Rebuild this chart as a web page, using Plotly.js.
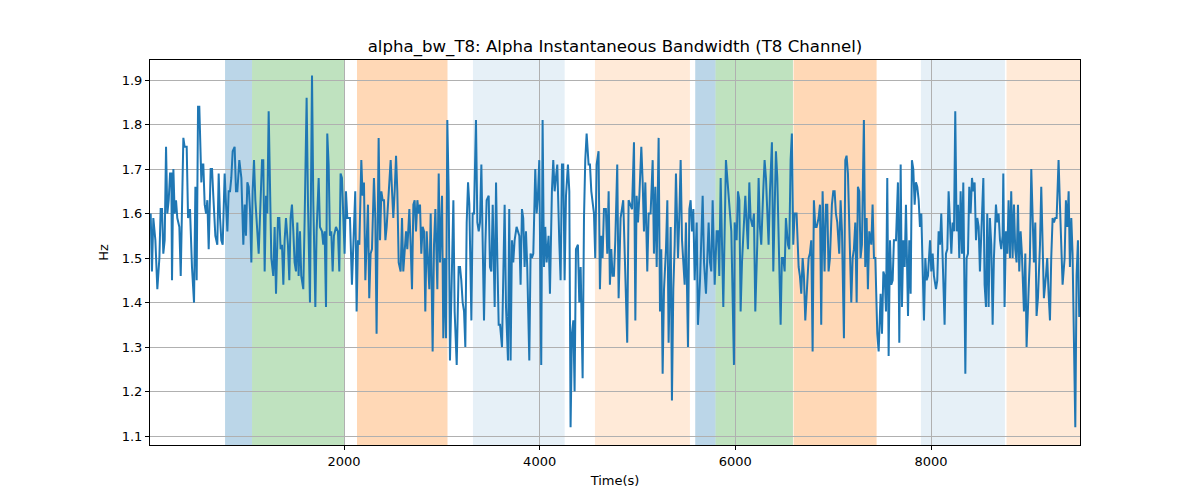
<!DOCTYPE html>
<html>
<head>
<meta charset="utf-8">
<script src="https://cdn.plot.ly/plotly-3.0.1.min.js"></script>
<style>
  html, body { margin: 0; padding: 0; background: #fff; }
  #chart { width: 1200px; height: 500px; }
</style>
</head>
<body>
<div id="chart"></div>
<script>
// time (s) and alpha bandwidth (Hz)
const timeSec = [
  24, 37, 51, 72, 92, 113, 126, 140, 153, 167, 181, 194, 208, 222, 235, 242, 256, 269, 283, 296,
  317, 331, 358, 371, 392, 406, 426, 446, 467, 481, 494, 508, 521, 542, 549, 562, 576, 590, 603, 617,
  637, 651, 664, 685, 705, 719, 733, 746, 760, 780, 794, 808, 821, 835, 848, 862, 882, 896, 910, 930,
  951, 971, 985, 998, 1012, 1026, 1039, 1053, 1066, 1080, 1094, 1114, 1128, 1141, 1162, 1175, 1189, 1203, 1216, 1230,
  1257, 1277, 1291, 1305, 1325, 1339, 1352, 1366, 1380, 1393, 1407, 1427, 1441, 1454, 1468, 1482, 1495, 1509, 1523, 1536,
  1550, 1563, 1584, 1598, 1618, 1632, 1652, 1673, 1686, 1707, 1720, 1741, 1754, 1775, 1788, 1802, 1816, 1829, 1843, 1856,
  1870, 1884, 1897, 1918, 1938, 1952, 1965, 1979, 1993, 2006, 2020, 2034, 2047, 2061, 2081, 2095, 2115, 2129, 2143, 2157,
  2177, 2190, 2204, 2218, 2231, 2245, 2258, 2272, 2286, 2306, 2320, 2333, 2354, 2368,
  2382, 2395, 2409, 2423, 2436, 2457, 2477, 2491, 2504, 2518, 2532, 2545, 2559, 2579, 2593, 2606, 2620, 2634, 2647, 2668,
  2681, 2695, 2709, 2722, 2736, 2750, 2763, 2777, 2790, 2804, 2818, 2831, 2845, 2859, 2872, 2886, 2906, 2920, 2934, 2954,
  2968, 2981, 3002, 3015, 3029, 3043, 3056, 3070, 3083, 3097, 3118, 3131, 3152, 3172, 3186, 3199, 3213, 3227, 3240, 3254,
  3268, 3281, 3302, 3315, 3329, 3349, 3363, 3377, 3390, 3404, 3418, 3431, 3445, 3458, 3479, 3492, 3506, 3520, 3540, 3554,
  3567, 3581, 3595, 3615, 3629, 3642, 3656, 3676,
  3689, 3703, 3717, 3730, 3744, 3764, 3778, 3792, 3805, 3819, 3832, 3846, 3860, 3873, 3894, 3907, 3921, 3935, 3955, 3969,
  3982, 3996, 4016, 4030, 4044, 4057, 4071, 4091, 4105, 4125, 4139, 4153, 4166, 4180, 4200, 4214, 4228, 4241, 4255, 4269,
  4289, 4303, 4316, 4330, 4344, 4357, 4371, 4391, 4405, 4419, 4439, 4453, 4466, 4480, 4500, 4514, 4528, 4541, 4555, 4568,
  4582, 4602, 4616, 4630, 4643, 4657, 4677, 4691, 4705, 4718, 4732, 4745, 4759, 4773, 4793, 4807, 4827, 4854, 4875, 4895, 4909,
  4944, 4964, 4978, 4991, 5005, 5019, 5039, 5053, 5066, 5080, 5100, 5114, 5134, 5155, 5168, 5182, 5196, 5216, 5230, 5243,
  5257, 5271, 5291, 5305, 5318, 5339, 5352, 5366, 5380, 5393, 5414, 5427, 5441, 5455, 5468, 5482, 5495, 5516, 5530, 5543,
  5557, 5571, 5584, 5605, 5618, 5639, 5666, 5680, 5700, 5727, 5741, 5754, 5768, 5789, 5809, 5823, 5836, 5850, 5864, 5877,
  5904, 5932, 5959, 5986, 5993, 6013, 6027, 6041, 6054, 6068, 6102, 6129, 6143,
  6156, 6176, 6190, 6204, 6224, 6238, 6251, 6265, 6285, 6299, 6313, 6326, 6340, 6354, 6374, 6388, 6401, 6415, 6429, 6442,
  6463, 6476, 6490, 6504, 6517, 6538, 6551, 6565, 6578, 6592, 6606, 6626, 6647, 6660, 6674, 6688, 6701, 6715, 6728, 6749,
  6762, 6776, 6790, 6803, 6817, 6831, 6851, 6865, 6878, 6892, 6912, 6926, 6940, 6953, 6967, 6987, 7001, 7015, 7028, 7042,
  7062, 7076, 7090, 7110, 7124, 7137, 7151, 7171, 7185, 7199, 7212, 7226, 7240, 7253, 7267, 7280, 7294, 7314, 7328, 7342,
  7355, 7369,
  7390, 7403, 7417, 7431, 7451, 7465, 7485, 7499, 7513, 7526, 7540, 7553, 7567, 7581, 7594, 7608, 7621, 7642, 7662, 7676,
  7690, 7703, 7717, 7731, 7744, 7765, 7778, 7792, 7805, 7819, 7833, 7846, 7860, 7874, 7887, 7901, 7914, 7928, 7942, 7955,
  7969, 7990, 8003, 8017, 8030, 8051, 8064, 8078, 8092, 8105, 8119, 8139, 8153, 8167, 8180, 8194, 8208, 8221, 8235, 8248,
  8262, 8276, 8289, 8303, 8317, 8330, 8351, 8364, 8378, 8391, 8405, 8419, 8432, 8446, 8460, 8473, 8487, 8500, 8514, 8535,
  8548, 8562, 8575, 8589,
  8602, 8616, 8630, 8643, 8664, 8677, 8691, 8705, 8718, 8732, 8739, 8752, 8766, 8780, 8793, 8807, 8820, 8834, 8848, 8861,
  8875, 8889, 8902, 8916, 8929, 8950, 8964, 8977, 8998, 9011, 9025, 9039, 9052, 9066, 9079, 9093, 9114, 9127, 9141, 9154,
  9175, 9188, 9202, 9216, 9229, 9243, 9257, 9270, 9284, 9297, 9304, 9318, 9332, 9345, 9366, 9379, 9393, 9407, 9420, 9434,
  9447, 9475, 9488, 9502, 9515, 9523
];

const bandwidthHz = [
  1.60, 1.47, 1.59, 1.54, 1.43, 1.50, 1.61, 1.61, 1.51, 1.54, 1.75, 1.60, 1.63, 1.69, 1.69, 1.45, 1.70, 1.60, 1.63, 1.59,
  1.57, 1.46, 1.77, 1.75, 1.75, 1.59, 1.61, 1.48, 1.40, 1.66, 1.45, 1.84, 1.84, 1.67, 1.71, 1.71, 1.62, 1.60, 1.63, 1.52,
  1.70, 1.70, 1.64, 1.55, 1.53, 1.69, 1.59, 1.54, 1.53, 1.69, 1.62, 1.56, 1.65, 1.65, 1.68, 1.74, 1.75, 1.65, 1.65, 1.72,
  1.68, 1.53, 1.62, 1.55, 1.67, 1.66, 1.61, 1.49, 1.65, 1.72, 1.63, 1.54, 1.51, 1.59, 1.72, 1.72, 1.47, 1.64, 1.60, 1.83,
  1.50, 1.46, 1.57, 1.42, 1.59, 1.59, 1.52, 1.53, 1.44, 1.54, 1.59, 1.53, 1.45, 1.59, 1.62, 1.56, 1.49, 1.47, 1.58, 1.46,
  1.56, 1.46, 1.43, 1.59, 1.86, 1.62, 1.40, 1.91, 1.63, 1.39, 1.56, 1.68, 1.57, 1.56, 1.53, 1.56, 1.39, 1.78, 1.71, 1.55,
  1.56, 1.47, 1.55, 1.57, 1.56, 1.47, 1.69, 1.68, 1.59, 1.51, 1.65, 1.59, 1.59, 1.59, 1.44, 1.52, 1.65, 1.38, 1.54, 1.53,
  1.72, 1.64, 1.67, 1.45, 1.53, 1.62, 1.41, 1.51, 1.52, 1.68, 1.59, 1.33, 1.77, 1.54,
  1.65, 1.63, 1.63, 1.54, 1.57, 1.65, 1.72, 1.65, 1.59, 1.65, 1.73, 1.65, 1.49, 1.47, 1.59, 1.47, 1.53, 1.56, 1.52, 1.61,
  1.53, 1.43, 1.62, 1.63, 1.56, 1.63, 1.60, 1.62, 1.51, 1.57, 1.56, 1.38, 1.56, 1.47, 1.43, 1.60, 1.29, 1.53, 1.61, 1.43,
  1.69, 1.49, 1.64, 1.32, 1.50, 1.32, 1.81, 1.65, 1.27, 1.41, 1.63, 1.38, 1.26, 1.48, 1.48, 1.45, 1.40, 1.38, 1.30, 1.58,
  1.67, 1.62, 1.36, 1.60, 1.60, 1.81, 1.58, 1.56, 1.58, 1.71, 1.51, 1.36, 1.53, 1.63, 1.64, 1.48, 1.47, 1.62, 1.39, 1.67,
  1.50, 1.35, 1.35, 1.30, 1.47, 1.62, 1.39, 1.27,
  1.61, 1.27, 1.54, 1.49, 1.54, 1.57, 1.56, 1.55, 1.44, 1.61, 1.59, 1.48, 1.56, 1.48, 1.27, 1.51, 1.50, 1.51, 1.70, 1.60,
  1.64, 1.72, 1.26, 1.81, 1.48, 1.57, 1.49, 1.55, 1.42, 1.65, 1.72, 1.65, 1.68, 1.71, 1.54, 1.45, 1.71, 1.71, 1.45, 1.64,
  1.71, 1.65, 1.12, 1.33, 1.36, 1.20, 1.52, 1.53, 1.40, 1.48, 1.23, 1.59, 1.72, 1.78, 1.71, 1.71, 1.65, 1.62, 1.60, 1.50,
  1.71, 1.74, 1.43, 1.55, 1.50, 1.61, 1.61, 1.51, 1.65, 1.44, 1.52, 1.46, 1.46, 1.54, 1.71, 1.41, 1.59, 1.63, 1.48, 1.31, 1.63,
  1.61, 1.76, 1.36, 1.64, 1.58, 1.64, 1.75, 1.67, 1.56, 1.67, 1.47, 1.60, 1.60, 1.72, 1.51, 1.66, 1.48, 1.77, 1.38, 1.52,
  1.24, 1.43, 1.52, 1.63, 1.31, 1.57, 1.18, 1.43, 1.53, 1.69, 1.50, 1.59, 1.72, 1.54, 1.50, 1.44, 1.58, 1.30, 1.61, 1.63,
  1.56, 1.61, 1.45, 1.58, 1.35, 1.45, 1.64, 1.49, 1.42, 1.58, 1.49, 1.47, 1.63, 1.44, 1.56, 1.56, 1.46, 1.68, 1.53, 1.39,
  1.72, 1.64, 1.56, 1.26, 1.58, 1.54, 1.65, 1.63, 1.38, 1.49, 1.64, 1.52, 1.67,
  1.59, 1.57, 1.60, 1.38, 1.53, 1.68, 1.57, 1.53, 1.65, 1.72, 1.68, 1.61, 1.53, 1.65, 1.76, 1.47, 1.65, 1.74, 1.68, 1.56,
  1.35, 1.50, 1.50, 1.47, 1.59, 1.53, 1.52, 1.72, 1.78, 1.53, 1.60, 1.60, 1.48, 1.46, 1.42, 1.50, 1.46, 1.36, 1.42, 1.50,
  1.51, 1.54, 1.29, 1.63, 1.57, 1.57, 1.59, 1.62, 1.35, 1.65, 1.47, 1.62, 1.62, 1.47, 1.50, 1.62, 1.65, 1.65, 1.60, 1.58,
  1.51, 1.63, 1.56, 1.32, 1.72, 1.73, 1.69, 1.48, 1.40, 1.50, 1.52, 1.58, 1.40, 1.66, 1.65, 1.50, 1.53, 1.81, 1.48, 1.59,
  1.43, 1.56,
  1.53, 1.62, 1.50, 1.50, 1.33, 1.29, 1.42, 1.33, 1.47, 1.46, 1.38, 1.68, 1.28, 1.54, 1.44, 1.45, 1.54, 1.54, 1.67, 1.31,
  1.71, 1.39, 1.54, 1.48, 1.62, 1.37, 1.54, 1.42, 1.72, 1.70, 1.62, 1.67, 1.66, 1.63, 1.57, 1.60, 1.47, 1.36, 1.50, 1.45,
  1.46, 1.54, 1.47, 1.51, 1.46, 1.43, 1.45, 1.56, 1.53, 1.60, 1.50, 1.35, 1.51, 1.52, 1.65, 1.59, 1.51, 1.58, 1.56, 1.83,
  1.56, 1.62, 1.50, 1.65, 1.51, 1.67, 1.24, 1.50, 1.51, 1.66, 1.60, 1.68, 1.65, 1.67, 1.54, 1.59, 1.57, 1.47, 1.57, 1.68,
  1.44, 1.39, 1.60, 1.39,
  1.59, 1.53, 1.35, 1.50, 1.62, 1.58, 1.60, 1.54, 1.52, 1.55, 1.69, 1.39, 1.56, 1.51, 1.63, 1.50, 1.65, 1.50, 1.62, 1.52,
  1.49, 1.62, 1.47, 1.56, 1.51, 1.38, 1.51, 1.30, 1.43, 1.50, 1.70, 1.59, 1.49, 1.58, 1.37, 1.41, 1.53, 1.66, 1.55, 1.41,
  1.46, 1.50, 1.42, 1.36, 1.50, 1.59, 1.58, 1.59, 1.59, 1.66, 1.72, 1.62, 1.53, 1.44, 1.50, 1.63, 1.57, 1.65, 1.48, 1.59,
  1.51, 1.12, 1.46, 1.54, 1.37, 1.37
];

// shaded phases (start, end in seconds) and their fill
const bandStart = [784, 1060, 2133, 3318, 4565, 5590, 5798, 6595, 7897, 8772];
const bandEnd   = [1060, 2000, 3058, 4256, 5536, 5798, 6589, 7444, 8756, 9540];
const bandFill  = [
  'rgba(31,119,180,0.3)', 'rgba(44,160,44,0.3)', 'rgba(255,127,14,0.3)',
  'rgba(31,119,180,0.11)', 'rgba(255,127,14,0.16)',
  'rgba(31,119,180,0.3)', 'rgba(44,160,44,0.3)', 'rgba(255,127,14,0.3)',
  'rgba(31,119,180,0.11)', 'rgba(255,127,14,0.16)'
];

const xTicks = [2000, 4000, 6000, 8000];
const yTicks = [1.1, 1.2, 1.3, 1.4, 1.5, 1.6, 1.7, 1.8, 1.9];

const shapes = bandStart.map((s, i) => ({
  type: 'rect',
  xref: 'x', yref: 'paper',
  x0: s, x1: bandEnd[i], y0: 0, y1: 1,
  fillcolor: bandFill[i],
  line: { width: 0 },
  layer: 'below'
}));

const trace = {
  x: timeSec,
  y: bandwidthHz,
  type: 'scatter',
  mode: 'lines',
  line: { color: '#1f77b4', width: 2 },
  hoverinfo: 'x+y',
  showlegend: false
};

const font = 'DejaVu Sans, sans-serif';

const axisStyle = {
  showgrid: true,
  gridcolor: '#b0b0b0',
  gridwidth: 1,
  zeroline: false,
  showline: true,
  mirror: true,
  linecolor: '#000',
  linewidth: 1,
  ticks: 'outside',
  ticklen: 4,
  tickcolor: '#000',
  tickfont: { family: font, size: 13, color: '#000' }
};

const layout = {
  width: 1200,
  height: 500,
  margin: { l: 150, r: 120, t: 60, b: 55 },
  paper_bgcolor: '#fff',
  plot_bgcolor: '#fff',
  title: {
    text: 'alpha_bw_T8: Alpha Instantaneous Bandwidth (T8 Channel)',
    font: { family: font, size: 16.6, color: '#000' },
    x: 0.5, xref: 'paper', xanchor: 'center',
    y: 0.908, yref: 'container', yanchor: 'middle'
  },
  xaxis: Object.assign({}, axisStyle, {
    range: [17, 9523],
    tickvals: xTicks,
    ticktext: xTicks.map(String),
    title: { text: 'Time(s)', font: { family: font, size: 13, color: '#000' }, standoff: 8 }
  }),
  yaxis: Object.assign({}, axisStyle, {
    range: [1.08, 1.945],
    tickvals: yTicks,
    ticktext: yTicks.map(v => v.toFixed(1)),
    title: { text: 'Hz', font: { family: font, size: 13, color: '#000' }, standoff: 10 }
  }),
  shapes: shapes
};

Plotly.newPlot('chart', [trace], layout, { displayModeBar: false, staticPlot: true });
</script>
</body>
</html>
